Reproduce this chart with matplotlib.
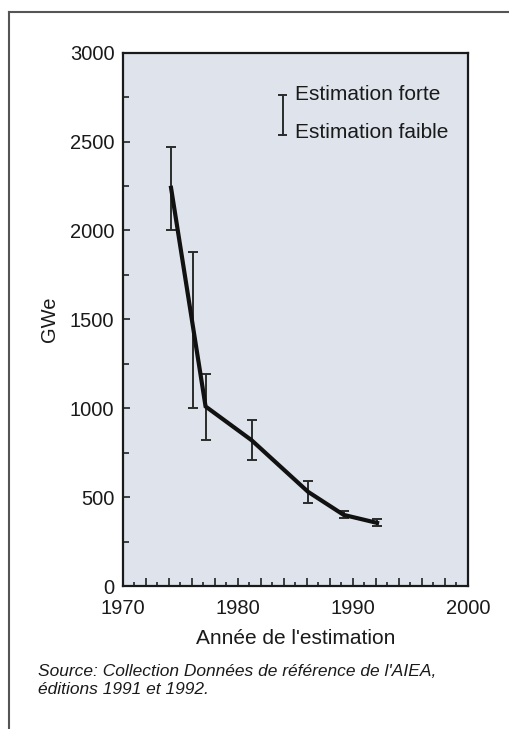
import numpy as np
import matplotlib.pyplot as plt
from matplotlib.lines import Line2D
from matplotlib.ticker import MultipleLocator, FuncFormatter

plt.rcParams['font.family'] = ['Liberation Sans', 'DejaVu Sans']

# Estimated capacity (GWe) by year of the estimate
line_years = [1974.2, 1977.2, 1981.2, 1986.1, 1989.2, 1992.1]
line_values = [2240, 1010, 820, 530, 400, 355]

# Range of each estimate: high / low
bar_years = [1974.2, 1976.1, 1977.2, 1981.2, 1986.1, 1989.2, 1992.1]
bar_high = [2470, 1880, 1190, 935, 590, 420, 375]
bar_low = [2000, 1000, 820, 710, 465, 385, 335]

legend_high = "Estimation forte"
legend_low = "Estimation faible"
x_label = "Année de l'estimation"
y_label = "GWe"
source_lines = ["Source: Collection Données de référence de l'AIEA,",
                "éditions 1991 et 1992."]

W, H = 509, 729
fig = plt.figure(figsize=(W / 100, H / 100), dpi=100)
ax = fig.add_axes([122.7 / W, 1 - 586 / H, 345.3 / W, 533.3 / H])
ax.set_facecolor('#dfe4ec')

bar_high = np.array(bar_high)
bar_low = np.array(bar_low)
mid = (bar_high + bar_low) / 2
ax.errorbar(bar_years, mid, yerr=(bar_high - bar_low) / 2, fmt='none',
            ecolor='#2b2b2b', elinewidth=1.4, capsize=3.3, capthick=1.4, zorder=2)
ax.plot(line_years, line_values, color='#111111', lw=3,
        solid_joinstyle='miter', zorder=3)

ax.set_xlim(1970, 2000)
ax.set_ylim(0, 3000)
ax.xaxis.set_major_locator(MultipleLocator(2))
ax.xaxis.set_minor_locator(MultipleLocator(1))
ax.xaxis.set_major_formatter(FuncFormatter(lambda v, p: f"{int(round(v))}" if round(v) % 10 == 0 else ""))
ax.yaxis.set_major_locator(MultipleLocator(500))
ax.yaxis.set_minor_locator(MultipleLocator(250))

ax.tick_params(axis='both', which='both', direction='in', colors='#222222',
               labelsize=14.5, labelcolor='#1a1a1a')
ax.tick_params(axis='x', which='major', length=6, width=1.2, pad=9)
ax.tick_params(axis='x', which='minor', length=3, width=1.2)
ax.tick_params(axis='y', which='major', length=5, width=1.2, pad=6)
ax.tick_params(axis='y', which='minor', length=4, width=1.2)
for s in ax.spines.values():
    s.set_linewidth(1.6)
    s.set_color('#1a1a1a')

ax.set_xlabel(x_label, fontsize=15, color='#1a1a1a', labelpad=8)
ax.set_ylabel(y_label, fontsize=14.5, color='#1a1a1a')
ax.yaxis.set_label_coords(-0.185, 0.5)

# legend: a single error bar with two labels
lx, ly_top, ly_bot = 0.463, 0.921, 0.845
ax.plot([lx, lx], [ly_bot, ly_top], transform=ax.transAxes, color='#2b2b2b', lw=1.4)
for yy in (ly_top, ly_bot):
    ax.plot([lx - 0.011, lx + 0.011], [yy, yy], transform=ax.transAxes, color='#2b2b2b', lw=1.4)
ax.text(0.499, ly_top, legend_high, transform=ax.transAxes, fontsize=15,
        va='center', ha='left', color='#1a1a1a')
ax.text(0.499, 0.85, legend_low, transform=ax.transAxes, fontsize=15,
        va='center', ha='left', color='#1a1a1a')

# source note
fig.text(38 / W, 1 - 671 / H, source_lines[0], fontsize=12.5, style='italic',
         va='center', ha='left', color='#1a1a1a')
fig.text(38 / W, 1 - 689 / H, source_lines[1], fontsize=12.5, style='italic',
         va='center', ha='left', color='#1a1a1a')

# outer frame (top and left edges visible)
fig.add_artist(Line2D([8.5 / W, 8.5 / W], [0, 1 - 12 / H], color='#555555', lw=1.5))
fig.add_artist(Line2D([8.5 / W, 1], [1 - 12 / H, 1 - 12 / H], color='#555555', lw=1.5))

fig.savefig('out.png', dpi=100)
